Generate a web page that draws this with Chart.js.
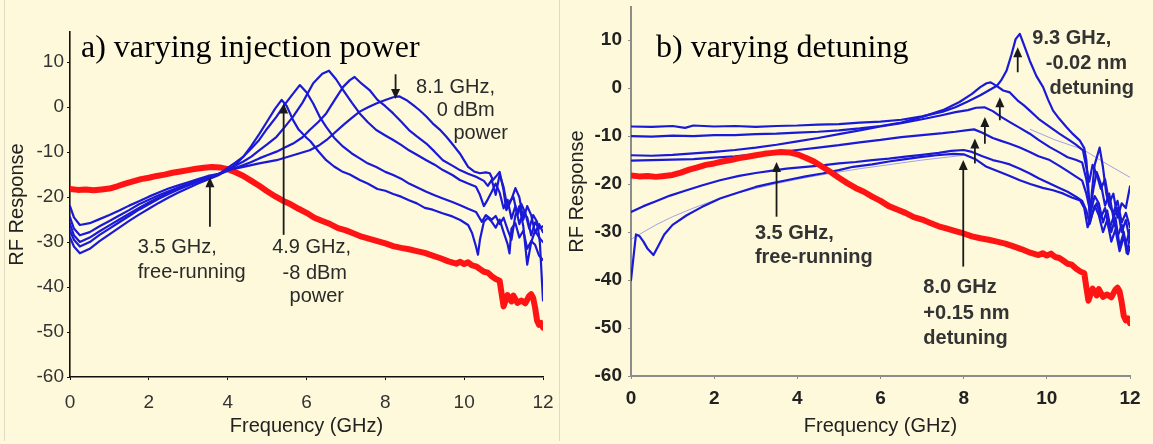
<!DOCTYPE html>
<html lang="en">
<head>
<meta charset="UTF-8">
<title>RF Response</title>
<script src="https://cdn.jsdelivr.net/npm/chart.js@4"></script>
<style>
  html, body { margin: 0; padding: 0; background: #fdf9da; }
  .figure { position: relative; width: 1153px; height: 444px; overflow: hidden; }
  .panel { position: absolute; top: 0; }
  #panelA { left: 0; }
  #panelB { left: 560px; }
  .rule { position: absolute; top: 0; width: 1px; height: 441px; background: #dedbc6; }
</style>
</head>
<body>
<div class="figure">
  <div class="rule" style="left:4px"></div>
  <div class="rule" style="left:559px"></div>
  <canvas id="panelA" class="panel" width="559" height="444"></canvas>
  <canvas id="panelB" class="panel" width="593" height="444"></canvas>
</div>
<script>
const freqTicks = [0, 2, 4, 6, 8, 10, 12];
const respTicks = [-60, -50, -40, -30, -20, -10, 0, 10];

// free-running laser, same trace in both panels  [GHz, dB]
const freeRunning = [[0,-18.2],[0.2,-18.4],[0.4,-18.3],[0.6,-18.5],[0.8,-18.3],[1.0,-18.1],[1.2,-17.6],[1.4,-17.0],[1.6,-16.5],[1.8,-16.0],
  [2.0,-15.7],[2.2,-15.3],[2.4,-15.0],[2.6,-14.6],[2.8,-14.3],[3.0,-14.0],[3.2,-13.7],[3.4,-13.5],[3.6,-13.3],[3.8,-13.4],
  [4.0,-13.8],[4.2,-14.5],[4.4,-15.3],[4.6,-16.4],[4.8,-17.5],[5.0,-18.7],[5.2,-19.8],[5.4,-20.8],[5.6,-21.6],[5.8,-22.6],
  [6.0,-23.5],[6.2,-24.6],[6.4,-25.3],[6.6,-26.0],[6.8,-26.9],[7.0,-27.4],[7.2,-28.1],[7.4,-28.8],[7.6,-29.3],[7.8,-29.8],
  [8.0,-30.3],[8.2,-30.9],[8.4,-31.3],[8.6,-31.6],[8.8,-32.0],[9.0,-32.4],[9.2,-33.0],[9.4,-33.6],[9.6,-34.3],[9.8,-34.8],
  [9.9,-34.4],[10.0,-34.9],[10.1,-34.5],[10.2,-35.2],[10.3,-35.4],[10.4,-36.0],[10.5,-36.6],[10.6,-36.8],[10.7,-37.6],[10.8,-38.2],
  [10.9,-38.6],[10.95,-41.5],[11.0,-44.3],[11.05,-43.0],[11.1,-41.8],[11.2,-43.2],[11.25,-41.9],[11.35,-43.5],[11.45,-43.0],[11.55,-43.6],
  [11.65,-42.0],[11.7,-41.6],[11.75,-42.4],[11.8,-44.6],[11.85,-47.5],[11.9,-48.4],[11.95,-48.0],[12.0,-49.0]];

// a) injection power sweep, -8 dBm ... 0 dBm
const power1 = [[0,-24.5],[0.1,-27.0],[0.25,-28.5],[0.5,-27.8],[0.75,-26.5],[1.0,-25.3],[1.25,-24.1],[1.5,-22.9],[1.75,-21.6],[2.0,-20.6],
  [2.25,-19.6],[2.5,-18.7],[2.75,-17.9],[3.0,-17.1],[3.25,-16.3],[3.5,-15.6],[3.75,-15.0],[4.0,-14.2],[4.2,-12.8],[4.4,-11.0],
  [4.6,-8.6],[4.8,-6.0],[5.0,-3.2],[5.2,-0.4],[5.37,1.6],[5.5,0.2],[5.66,-2.9],[5.8,-5.0],[6.0,-6.8],[6.1,-7.6],
  [6.3,-9.8],[6.5,-11.8],[6.7,-13.2],[6.9,-14.3],[7.1,-15.0],[7.35,-16.2],[7.55,-17.0],[7.8,-18.2],[8.0,-18.6],[8.2,-19.3],
  [8.4,-19.9],[8.6,-20.7],[8.8,-21.4],[9.0,-22.4],[9.2,-22.8],[9.45,-23.6],[9.7,-24.3],[9.9,-25.1],[10.1,-26.2],[10.2,-28.0],
  [10.3,-31.0],[10.35,-32.8],[10.4,-29.5],[10.5,-25.5],[10.6,-24.6],[10.7,-25.5],[10.8,-26.8],[10.9,-25.0],[11.0,-27.8],[11.1,-30.4],
  [11.15,-32.5],[11.2,-27.0],[11.3,-25.8],[11.4,-29.0],[11.5,-27.5],[11.6,-31.5],[11.7,-29.8],[11.8,-30.6],[11.9,-33.0],[12.0,-34.0]];
const power2 = [[0,-27.5],[0.1,-29.5],[0.25,-31.0],[0.5,-30.0],[0.75,-28.4],[1.0,-27.0],[1.25,-25.6],[1.5,-24.2],[1.75,-22.8],[2.0,-21.6],
  [2.25,-20.4],[2.5,-19.3],[2.75,-18.3],[3.0,-17.4],[3.25,-16.6],[3.5,-15.8],[3.75,-15.1],[4.0,-13.5],[4.2,-12.3],[4.4,-11.0],
  [4.6,-9.2],[4.8,-7.3],[5.0,-4.8],[5.24,-2.1],[5.45,0.6],[5.66,3.0],[5.83,4.9],[6.0,3.3],[6.17,0.8],[6.35,-2.4],
  [6.5,-4.4],[6.7,-6.8],[6.93,-8.8],[7.15,-10.3],[7.35,-11.4],[7.55,-12.5],[7.77,-13.3],[8.0,-14.4],[8.2,-15.1],[8.4,-15.9],
  [8.6,-17.0],[8.8,-17.8],[9.04,-18.8],[9.25,-19.6],[9.46,-20.3],[9.7,-21.1],[9.9,-21.8],[10.1,-22.6],[10.3,-23.3],[10.45,-25.5],
  [10.55,-24.0],[10.7,-25.0],[10.8,-24.2],[10.9,-26.0],[11.0,-24.6],[11.1,-27.2],[11.2,-29.5],[11.3,-24.0],[11.4,-22.0],[11.5,-26.5],
  [11.6,-35.0],[11.7,-30.0],[11.8,-27.5],[11.9,-29.0],[12.0,-30.0]];
const power3 = [[0,-22.0],[0.1,-24.5],[0.25,-26.2],[0.5,-25.8],[0.75,-24.9],[1.0,-24.0],[1.25,-23.0],[1.5,-21.9],[1.75,-20.9],[2.0,-19.9],
  [2.25,-19.0],[2.5,-18.1],[2.75,-17.4],[3.0,-16.7],[3.25,-16.0],[3.5,-15.3],[3.75,-14.9],[4.0,-13.9],[4.2,-13.0],[4.4,-12.1],
  [4.6,-11.0],[4.8,-9.6],[5.0,-8.3],[5.24,-6.6],[5.45,-4.4],[5.66,-2.1],[5.9,1.0],[6.17,5.3],[6.4,7.4],[6.57,8.1],
  [6.75,6.2],[6.93,3.8],[7.15,1.0],[7.35,-1.4],[7.55,-3.3],[7.77,-5.1],[8.0,-6.3],[8.2,-7.3],[8.4,-8.4],[8.6,-9.6],
  [8.8,-10.6],[9.04,-11.8],[9.25,-12.8],[9.46,-14.0],[9.7,-15.1],[9.89,-16.2],[10.1,-17.0],[10.3,-17.7],[10.4,-19.5],[10.5,-22.0],
  [10.6,-20.5],[10.7,-18.8],[10.8,-17.0],[10.9,-19.0],[11.0,-22.5],[11.1,-20.6],[11.2,-24.8],[11.3,-22.0],[11.4,-26.0],[11.5,-23.4],
  [11.6,-24.5],[11.7,-28.5],[11.8,-25.6],[11.9,-27.0],[12.0,-26.5]];
const power4 = [[0,-26.0],[0.1,-28.5],[0.25,-30.0],[0.5,-29.0],[0.75,-27.6],[1.0,-26.3],[1.25,-25.0],[1.5,-23.7],[1.75,-22.4],[2.0,-21.2],
  [2.25,-20.1],[2.5,-19.0],[2.75,-18.1],[3.0,-17.2],[3.25,-16.4],[3.5,-15.6],[3.75,-14.9],[4.0,-14.1],[4.2,-13.5],[4.4,-12.9],
  [4.6,-12.2],[4.8,-11.4],[5.0,-10.7],[5.24,-9.9],[5.45,-9.0],[5.66,-8.1],[5.9,-6.7],[6.08,-5.1],[6.3,-3.3],[6.5,-1.4],
  [6.7,1.4],[6.93,4.5],[7.1,6.0],[7.22,6.7],[7.4,5.2],[7.6,3.8],[7.8,1.6],[8.0,0.2],[8.2,-1.4],[8.4,-3.2],
  [8.6,-5.1],[8.8,-6.5],[9.04,-8.1],[9.25,-9.9],[9.46,-11.8],[9.7,-13.0],[9.89,-14.0],[10.1,-14.8],[10.3,-15.5],[10.5,-16.4],
  [10.6,-17.5],[10.7,-16.2],[10.8,-19.5],[10.9,-15.0],[11.0,-17.8],[11.1,-22.5],[11.2,-20.5],[11.3,-18.0],[11.4,-20.0],[11.5,-25.0],
  [11.6,-22.0],[11.7,-24.0],[11.8,-28.0],[11.9,-26.0],[12.0,-27.8]];
const power5 = [[0,-29.0],[0.1,-31.0],[0.25,-32.5],[0.5,-31.5],[0.75,-29.8],[1.0,-28.3],[1.25,-26.8],[1.5,-25.3],[1.75,-23.9],[2.0,-22.6],
  [2.25,-21.3],[2.5,-20.1],[2.75,-19.0],[3.0,-18.0],[3.25,-17.0],[3.5,-16.1],[3.75,-15.2],[4.0,-14.0],[4.4,-13.3],[4.8,-12.5],
  [5.24,-11.8],[5.66,-10.7],[6.08,-9.6],[6.3,-8.6],[6.51,-7.3],[6.7,-5.8],[6.93,-4.0],[7.15,-2.4],[7.35,-1.0],[7.55,-0.1],
  [7.77,0.8],[8.0,1.6],[8.2,2.2],[8.35,2.4],[8.53,1.6],[8.7,0.5],[8.87,-0.7],[9.04,-2.1],[9.2,-3.6],[9.38,-5.0],
  [9.55,-6.6],[9.7,-8.2],[9.89,-10.3],[10.1,-13.3],[10.25,-14.3],[10.4,-14.7],[10.55,-14.5],[10.65,-14.7],[10.73,-16.2],[10.8,-15.5],
  [10.9,-14.4],[11.0,-18.5],[11.07,-22.9],[11.15,-21.0],[11.25,-20.0],[11.35,-24.0],[11.45,-21.5],[11.55,-23.5],[11.65,-27.0],[11.75,-24.0],
  [11.85,-25.5],[11.92,-30.0],[12.0,-43.0]];
const powerCurves = [power1, power2, power3, power4, power5];

// b) detuning sweep, -0.02 nm ... +0.15 nm
const detune1 = [[0,-8.0],[0.5,-8.1],[1.0,-7.9],[1.3,-8.3],[1.5,-7.8],[2.0,-8.0],[2.5,-7.9],[3.0,-8.1],[3.5,-7.9],[4.0,-7.8],
  [4.5,-7.6],[5.0,-7.5],[5.5,-7.2],[6.0,-7.0],[6.5,-6.6],[7.0,-5.9],[7.5,-4.9],[7.8,-4.0],[8.1,-2.8],[8.4,-1.5],
  [8.6,-0.5],[8.8,0.5],[8.9,1.6],[9.03,3.6],[9.15,7.0],[9.25,10.2],[9.35,11.3],[9.45,9.0],[9.59,5.7],[9.75,2.5],
  [9.91,0.2],[10.03,-2.4],[10.15,-4.7],[10.3,-6.4],[10.47,-8.1],[10.63,-9.6],[10.79,-10.9],[10.9,-12.5],[10.95,-15.0],[11.0,-21.0],
  [11.03,-27.5],[11.08,-22.0],[11.15,-16.0],[11.27,-12.4],[11.35,-16.5],[11.43,-22.0],[11.5,-24.5],[11.6,-26.0],[11.7,-23.5],[11.8,-28.0],
  [11.9,-26.0],[12.0,-29.0]];
const detune2 = [[0,-10.0],[0.5,-10.1],[1.0,-9.9],[1.5,-10.0],[2.0,-9.8],[2.5,-9.8],[3.0,-9.6],[3.5,-9.5],[4.0,-9.3],[4.5,-9.1],
  [5.0,-8.8],[5.5,-8.4],[6.0,-7.9],[6.5,-7.2],[7.0,-6.0],[7.5,-4.6],[7.9,-2.9],[8.2,-1.2],[8.4,0.2],[8.55,1.0],
  [8.65,1.2],[8.8,0.4],[8.95,-0.5],[9.11,-0.9],[9.3,-2.6],[9.45,-3.6],[9.59,-4.7],[9.8,-6.4],[10.07,-8.1],[10.3,-9.5],
  [10.55,-10.9],[10.7,-11.8],[10.87,-13.0],[10.95,-16.5],[11.02,-19.5],[11.1,-16.0],[11.2,-18.0],[11.3,-21.0],[11.4,-19.0],[11.5,-24.0],
  [11.6,-22.0],[11.7,-27.0],[11.8,-24.0],[11.9,-25.0],[12.0,-20.5]];
const detune3 = [[0,-14.0],[0.5,-14.1],[1.0,-13.9],[1.5,-13.6],[2.0,-13.3],[2.5,-12.9],[3.0,-12.4],[3.5,-11.8],[4.0,-11.1],[4.5,-10.4],
  [5.0,-9.6],[5.5,-8.8],[6.0,-8.0],[6.5,-7.3],[7.0,-6.5],[7.5,-5.6],[7.8,-5.0],[8.1,-4.6],[8.3,-4.1],[8.5,-4.0],
  [8.7,-4.8],[8.9,-6.0],[9.11,-7.1],[9.35,-8.3],[9.59,-9.5],[9.8,-10.8],[10.07,-12.3],[10.3,-13.4],[10.5,-14.4],[10.71,-15.0],
  [10.85,-15.5],[10.95,-19.0],[11.05,-25.0],[11.12,-21.0],[11.2,-17.5],[11.3,-20.0],[11.4,-24.5],[11.5,-22.0],[11.6,-27.0],[11.7,-25.0],
  [11.8,-30.0],[11.9,-27.5],[12.0,-32.0]];
const detune4 = [[0,-15.1],[0.5,-15.0],[1.0,-14.9],[1.5,-14.8],[2.0,-14.5],[2.5,-14.2],[3.0,-13.8],[3.5,-13.4],[4.0,-12.9],[4.5,-12.4],
  [5.0,-11.9],[5.5,-11.3],[6.0,-10.8],[6.5,-10.2],[7.0,-9.8],[7.5,-9.4],[7.8,-9.1],[8.05,-8.8],[8.25,-8.6],[8.45,-9.3],
  [8.7,-10.4],[8.9,-11.0],[9.11,-11.6],[9.35,-12.4],[9.59,-13.3],[9.8,-14.2],[10.07,-15.0],[10.3,-16.2],[10.5,-17.3],[10.71,-18.5],
  [10.85,-19.3],[10.95,-22.0],[11.05,-26.0],[11.15,-22.5],[11.25,-24.0],[11.35,-28.0],[11.45,-25.5],[11.55,-30.0],[11.65,-27.0],[11.75,-33.0],
  [11.85,-30.0],[11.92,-34.4],[12.0,-31.0]];
const detune5 = [[0,-25.8],[0.3,-24.6],[0.6,-23.6],[0.94,-22.4],[1.3,-21.4],[1.7,-20.3],[2.14,-19.2],[2.6,-18.3],[3.0,-17.7],[3.4,-17.2],
  [3.74,-16.8],[4.2,-16.4],[4.6,-16.1],[5.0,-15.7],[5.4,-15.4],[5.8,-15.0],[6.2,-14.7],[6.6,-14.3],[7.0,-13.9],[7.4,-13.5],
  [7.7,-13.1],[8.0,-12.9],[8.2,-13.3],[8.45,-14.2],[8.7,-15.0],[8.9,-15.4],[9.11,-15.9],[9.35,-16.8],[9.59,-17.8],[9.8,-18.8],
  [10.07,-19.9],[10.3,-20.8],[10.5,-21.6],[10.71,-22.7],[10.85,-23.5],[10.95,-25.5],[11.03,-28.3],[11.1,-26.0],[11.2,-24.0],[11.3,-27.0],
  [11.4,-25.0],[11.5,-29.5],[11.6,-27.0],[11.7,-31.0],[11.8,-28.5],[11.9,-32.5],[12.0,-29.5]];
const detune6 = [[0,-40.0],[0.05,-36.0],[0.12,-30.5],[0.2,-30.8],[0.3,-32.0],[0.4,-33.5],[0.54,-34.8],[0.65,-33.0],[0.8,-30.5],[1.0,-28.5],
  [1.34,-26.5],[1.7,-24.8],[2.14,-23.0],[2.6,-21.7],[3.0,-20.6],[3.4,-19.8],[3.74,-19.2],[4.2,-18.4],[4.6,-17.8],[5.0,-17.1],
  [5.34,-16.4],[5.8,-15.9],[6.2,-15.3],[6.6,-14.8],[6.95,-14.4],[7.35,-14.0],[7.75,-13.7],[8.0,-13.8],[8.3,-14.9],[8.55,-16.4],
  [8.9,-17.6],[9.11,-18.3],[9.35,-19.2],[9.6,-20.0],[9.9,-20.8],[10.15,-21.3],[10.4,-22.0],[10.6,-22.8],[10.8,-23.4],[10.9,-25.0],
  [10.98,-29.0],[11.05,-27.5],[11.15,-24.5],[11.25,-26.5],[11.35,-30.0],[11.45,-27.5],[11.55,-32.0],[11.65,-29.5],[11.75,-34.0],[11.85,-31.0],
  [11.95,-34.6],[12.0,-33.0]];
const detuneCurves = [detune1, detune2, detune3, detune4, detune5, detune6];
// faint reference traces
const detuneFitLow = [[0,-31.5],[0.3,-30.0],[0.6,-28.5],[1.0,-26.8],[1.5,-25.0],[2.0,-23.4],[2.5,-22.0],[3.0,-20.9],[3.5,-19.9],[4.0,-19.0],
  [4.5,-18.2],[5.0,-17.5],[5.5,-16.8],[6.0,-16.2],[6.5,-15.6],[7.0,-15.0],[7.5,-14.5],[8.0,-14.0]];
const detuneFitHigh = [[9.6,-8.6],[10.2,-10.8],[10.87,-12.8],[11.4,-15.6],[12.0,-18.6]];

// arrows [GHz, tail dB, tip dB] and label lines [text, GHz, dB, align]
const arrowsA = [[3.55, -26.6, -15.6], [5.42, -28.4, 0.8], [8.26, 7.3, 1.8]];
const labelsA = [['3.5 GHz,', 1.72, -31.1, 'left'], ['free-running', 1.72, -36.7, 'left'],
  ['4.9 GHz,', 6.13, -31.3, 'center'], ['-8 dBm', 6.21, -36.9, 'center'], ['power', 6.26, -42.2, 'center'],
  ['8.1 GHz,', 9.78, 4.4, 'center'], ['0 dBm', 10.04, -0.7, 'center'], ['power', 10.42, -5.8, 'center']];
const arrowsB = [[3.5, -26.8, -15.4], [7.99, -37.2, -15.0], [8.27, -15.7, -10.5], [8.51, -11.6, -6.0], [8.87, -6.7, -1.9], [9.3, 3.3, 8.5]];
const labelsB = [['9.3 GHz,', 10.6, 10.3, 'center'], ['-0.02 nm', 10.95, 5.1, 'center'], ['detuning', 11.08, -0.1, 'center'],
  ['3.5 GHz,', 2.98, -30.2, 'left'], ['free-running', 2.98, -35.2, 'left'],
  ['8.0 GHz', 7.03, -41.5, 'left'], ['+0.15 nm', 7.03, -46.9, 'left'], ['detuning', 7.03, -52.1, 'left']];

const SANS = "'Liberation Sans', Arial, sans-serif";
const SERIF = "'Liberation Serif', 'Times New Roman', serif";
const BLUE = '#1a1ad6';
const RED = '#ff1414';

function toPoints(arr) {
  return arr.map(p => ({ x: p[0], y: p[1] }));
}

// panel title, arrows and their captions
const notesPlugin = {
  id: 'notes',
  afterDatasetsDraw(chart, args, o) {
    const { ctx } = chart;
    const sx = chart.scales.x, sy = chart.scales.y;
    ctx.save();
    ctx.fillStyle = '#000';
    ctx.font = '32px ' + SERIF;
    ctx.textAlign = 'left';
    ctx.textBaseline = 'alphabetic';
    ctx.fillText(o.title, o.titleX, o.titleY);

    ctx.strokeStyle = '#1a1a1a';
    ctx.fillStyle = '#1a1a1a';
    ctx.lineWidth = 1.8;
    o.arrows.forEach(a => {
      const px = sx.getPixelForValue(a[0]);
      const y0 = sy.getPixelForValue(a[1]);
      const y1 = sy.getPixelForValue(a[2]);
      const dir = y1 < y0 ? 1 : -1;
      ctx.beginPath();
      ctx.moveTo(px, y0);
      ctx.lineTo(px, y1 + dir * 6);
      ctx.stroke();
      ctx.beginPath();
      ctx.moveTo(px, y1);
      ctx.lineTo(px - 4.5, y1 + dir * 10);
      ctx.lineTo(px + 4.5, y1 + dir * 10);
      ctx.closePath();
      ctx.fill();
    });

    ctx.fillStyle = o.textColor;
    ctx.font = o.textWeight + ' 20px ' + SANS;
    ctx.textBaseline = 'middle';
    o.labels.forEach(l => {
      ctx.textAlign = l[3];
      ctx.fillText(l[0], sx.getPixelForValue(l[1]), sy.getPixelForValue(l[2]));
    });
    ctx.restore();
  }
};

function panelOptions(p) {
  return {
    responsive: false,
    animation: false,
    layout: { padding: { left: 0, right: p.padRight, top: p.padTop, bottom: 0 } },
    elements: { point: { radius: 0 }, line: { tension: 0, borderJoinStyle: 'round', borderCapStyle: 'round' } },
    plugins: {
      legend: { display: false },
      tooltip: { enabled: false },
      notes: p.notes
    },
    scales: {
      x: {
        type: 'linear', min: 0, max: 12,
        afterBuildTicks: s => { s.ticks = freqTicks.map(v => ({ value: v })); },
        afterFit: s => { s.height = 444 - p.bottom; s.paddingLeft = 0; s.paddingRight = 0; },
        grid: { drawOnChartArea: false, color: p.axisColor, tickLength: 3 },
        border: { color: p.axisColor, width: p.axisWidth },
        ticks: { color: p.tickColor, font: { family: SANS, size: 19, weight: p.tickWeight }, padding: p.xTickPad, maxRotation: 0 },
        title: { display: true, text: 'Frequency (GHz)', color: '#222', font: { family: SANS, size: 20 }, padding: { top: 0, bottom: 6 } }
      },
      y: {
        type: 'linear', min: -60, max: p.yMax,
        afterBuildTicks: s => { s.ticks = respTicks.map(v => ({ value: v })); },
        afterFit: s => { s.width = p.left; s.paddingTop = 0; s.paddingBottom = 0; },
        grid: { drawOnChartArea: false, color: p.axisColor, tickLength: 3 },
        border: { color: p.axisColor, width: p.axisWidth },
        ticks: { color: p.tickColor, font: { family: SANS, size: 19, weight: p.tickWeight }, padding: p.yTickPad },
        title: { display: true, text: 'RF Response', color: '#222', font: { family: SANS, size: 20 }, padding: { top: 5, bottom: 0 } }
      }
    }
  };
}

// a) varying injection power
new Chart(document.getElementById('panelA'), {
  type: 'line',
  data: {
    datasets: powerCurves.map(c => ({ data: toPoints(c), borderColor: BLUE, borderWidth: 2.2, order: 0 }))
      .concat([{ data: toPoints(freeRunning), borderColor: RED, borderWidth: 6, order: 1 }])
  },
  options: panelOptions({
    padRight: 16, padTop: 32, bottom: 377, left: 70, yMax: 16.7,
    axisColor: '#111', axisWidth: 1.6, tickColor: '#333', tickWeight: 'normal', xTickPad: 11, yTickPad: 3,
    notes: { title: 'a) varying injection power', titleX: 81, titleY: 57, arrows: arrowsA, labels: labelsA, textColor: '#2a2a2a', textWeight: 'normal' }
  }),
  plugins: [notesPlugin]
});

// b) varying detuning
new Chart(document.getElementById('panelB'), {
  type: 'line',
  data: {
    datasets: [{ data: toPoints(freeRunning), borderColor: RED, borderWidth: 6, order: 0 }]
      .concat(detuneCurves.map(c => ({ data: toPoints(c), borderColor: BLUE, borderWidth: 2.2, order: 1 })))
      .concat([detuneFitLow, detuneFitHigh].map(c => ({ data: toPoints(c), borderColor: 'rgba(90,90,230,0.55)', borderWidth: 1, order: 2 })))
  },
  options: panelOptions({
    padRight: 23, padTop: 7, bottom: 376, left: 71, yMax: 16.9,
    axisColor: '#8c8c8c', axisWidth: 2, tickColor: '#222', tickWeight: 'bold', xTickPad: 8, yTickPad: 6,
    notes: { title: 'b) varying detuning', titleX: 96, titleY: 57, arrows: arrowsB, labels: labelsB, textColor: '#333', textWeight: 'bold' }
  }),
  plugins: [notesPlugin]
});
</script>
</body>
</html>
